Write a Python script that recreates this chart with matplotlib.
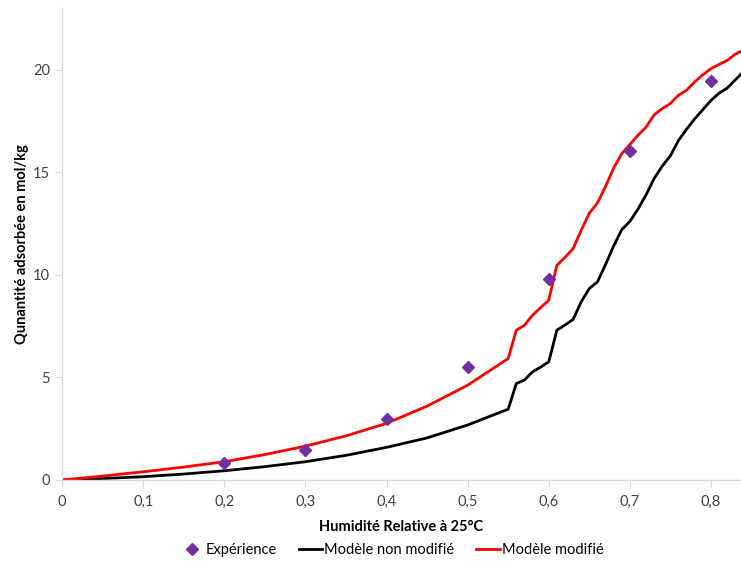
import matplotlib.pyplot as plt

plt.rcParams['font.family'] = ['Lato', 'DejaVu Sans']

# Expérience
hr_exp = [0.2, 0.3, 0.4, 0.5, 0.6, 0.7, 0.8]
q_exp = [0.85, 1.46, 2.97, 5.52, 9.78, 16.05, 19.42]

# model curves
hr_mod = [0, 0.05, 0.1, 0.15, 0.2, 0.25, 0.3, 0.35, 0.4, 0.45, 0.5, 0.55,
          0.56, 0.57, 0.58, 0.59, 0.60, 0.61, 0.62, 0.63, 0.64, 0.65, 0.66,
          0.67, 0.68, 0.69, 0.70, 0.71, 0.72, 0.73, 0.74, 0.75, 0.76, 0.77,
          0.78, 0.79, 0.80, 0.81, 0.82, 0.83, 0.84]
q_non_modifie = [0, 0.07, 0.16, 0.29, 0.45, 0.65, 0.89, 1.2, 1.59, 2.05, 2.68, 3.45,
                 4.7, 4.87, 5.27, 5.5, 5.76, 7.3, 7.55, 7.82, 8.68, 9.33, 9.65,
                 10.5, 11.4, 12.2, 12.6, 13.2, 13.9, 14.7, 15.3, 15.8, 16.55, 17.1,
                 17.6, 18.05, 18.5, 18.85, 19.1, 19.5, 19.9]
q_modifie = [0, 0.19, 0.40, 0.63, 0.89, 1.24, 1.65, 2.15, 2.76, 3.6, 4.62, 5.92,
             7.3, 7.54, 8.03, 8.4, 8.76, 10.46, 10.85, 11.27, 12.17, 13.0, 13.5,
             14.3, 15.2, 15.9, 16.35, 16.8, 17.2, 17.8, 18.1, 18.35, 18.75, 19.0,
             19.4, 19.75, 20.05, 20.25, 20.45, 20.75, 20.95]

xticks = [0, 0.1, 0.2, 0.3, 0.4, 0.5, 0.6, 0.7, 0.8]
xtick_labels = ['0', '0,1', '0,2', '0,3', '0,4', '0,5', '0,6', '0,7', '0,8']
yticks = [0, 5, 10, 15, 20]

fig = plt.figure(figsize=(7.41, 5.61), dpi=100)
ax = fig.add_axes([0.0837, 0.1444, 0.9163, 0.8413])

ax.plot(hr_exp, q_exp, linestyle='none', marker='D', markersize=6,
        color='#7030A0', label='Expérience', zorder=3)
ax.plot(hr_mod, q_non_modifie, color='black', lw=2, label='Modèle non modifié')
ax.plot(hr_mod, q_modifie, color='#ff0000', lw=2, label='Modèle modifié')

ax.set_xlim(0, 0.837)
ax.set_ylim(0, 23)
ax.set_xticks(xticks)
ax.set_xticklabels(xtick_labels)
ax.set_yticks(yticks)

for s in ['top', 'right']:
    ax.spines[s].set_visible(False)
for s in ['left', 'bottom']:
    ax.spines[s].set_color('#d9d9d9')
    ax.spines[s].set_linewidth(1)
ax.tick_params(colors='#d9d9d9', labelcolor='#404040', labelsize=10.5, length=5)
ax.tick_params(axis='x', pad=6)

ax.set_xlabel('Humidité Relative à 25°C', fontsize=10.5, fontweight='bold', labelpad=8)
ax.set_ylabel('Qunantité adsorbée en mol/kg', fontsize=10.5, fontweight='bold', labelpad=3)

ax.legend(loc='upper center', bbox_to_anchor=(0.486, -0.105), ncol=3, frameon=False,
          fontsize=10.5, handlelength=1.6, handletextpad=0.15, columnspacing=1.5)

fig.savefig('out.png', dpi=100)
